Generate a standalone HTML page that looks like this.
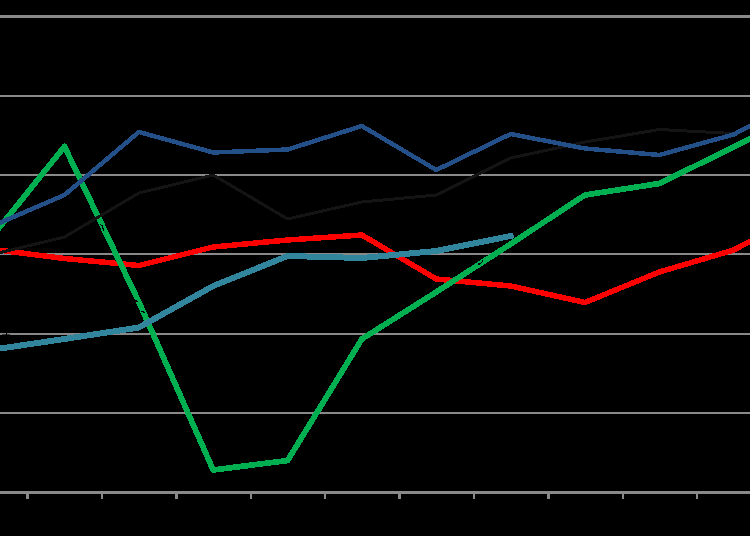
<!DOCTYPE html>
<html><head><meta charset="utf-8"><style>
html,body{margin:0;padding:0;background:#000;width:750px;height:536px;overflow:hidden;font-family:"Liberation Sans",sans-serif;}
svg{display:block;}
</style></head><body>
<svg width="750" height="536" viewBox="0 0 750 536">
<rect width="750" height="536" fill="#000"/>
<g shape-rendering="crispEdges"><rect x="0" y="15" width="750" height="3" fill="#898989"/><rect x="0" y="95" width="750" height="2" fill="#898989"/><rect x="0" y="174" width="750" height="2" fill="#898989"/><rect x="0" y="253" width="750" height="2" fill="#898989"/><rect x="0" y="333" width="750" height="2" fill="#898989"/><rect x="0" y="412" width="750" height="2" fill="#898989"/><rect x="6" y="333" width="1" height="2" fill="#000"/><rect x="2" y="334" width="4" height="1" fill="#3a3a3a"/><rect x="7" y="334" width="3" height="1" fill="#3a3a3a"/><rect x="0" y="491" width="750" height="3" fill="#898989"/><rect x="26" y="494" width="3" height="5" fill="#898989"/><rect x="101" y="494" width="2" height="5" fill="#898989"/><rect x="175" y="494" width="3" height="5" fill="#898989"/><rect x="250" y="494" width="2" height="5" fill="#898989"/><rect x="324" y="494" width="2" height="5" fill="#898989"/><rect x="398" y="494" width="3" height="5" fill="#898989"/><rect x="473" y="494" width="2" height="5" fill="#898989"/><rect x="547" y="494" width="3" height="5" fill="#898989"/><rect x="622" y="494" width="2" height="5" fill="#898989"/><rect x="696" y="494" width="2" height="5" fill="#898989"/></g>
<g fill="none" stroke-linejoin="round" stroke-linecap="butt" shape-rendering="crispEdges">
<polyline points="-9.9,249 64.5,258.5 138.9,265.5 213.2,247 287.6,240 361.9,235 436.3,279 510.7,286 585.0,302.5 659.4,272 733.7,250 808.1,211" stroke="#ff0000" stroke-width="5.5"/>
<polyline points="-9.9,239 64.5,146.5 138.9,302 213.2,470 287.6,460.5 361.9,339 436.3,292 510.7,244 585.0,195 659.4,183.5 733.7,147 808.1,109" stroke="#00b050" stroke-width="5.75"/>
<polyline points="-9.9,255 64.5,237 138.9,193 213.2,175 287.6,219 361.9,202 436.3,195 510.7,158 585.0,142 659.4,129.5 733.7,133.5 808.1,96" stroke="#141414" stroke-width="3"/>
<path d="M100,224.3 Q102.5,225 102.8,227.5 L103.6,230.5" stroke="#000" stroke-width="1.2"/>
<path d="M135,301 L138.5,301.3 M141.5,311.5 L145,312.3" stroke="#000" stroke-width="1.3"/>
<path d="M477.5,264.3 Q482,264 482.8,260" stroke="#000" stroke-width="1.2"/>
<polyline points="-9.9,350 64.5,339 138.9,327.5 213.2,286 287.6,256 361.9,258 436.3,251 510.7,236" stroke="#31859c" stroke-width="6" stroke-linecap="square"/>
<polyline points="-9.9,227 64.5,195 138.9,132 213.2,152.5 287.6,149.5 361.9,126 436.3,170 510.7,134 585.0,148.5 659.4,155 733.7,134.5 808.1,95" stroke="#24508a" stroke-width="4.5"/>
</g>
</svg>
</body></html>
